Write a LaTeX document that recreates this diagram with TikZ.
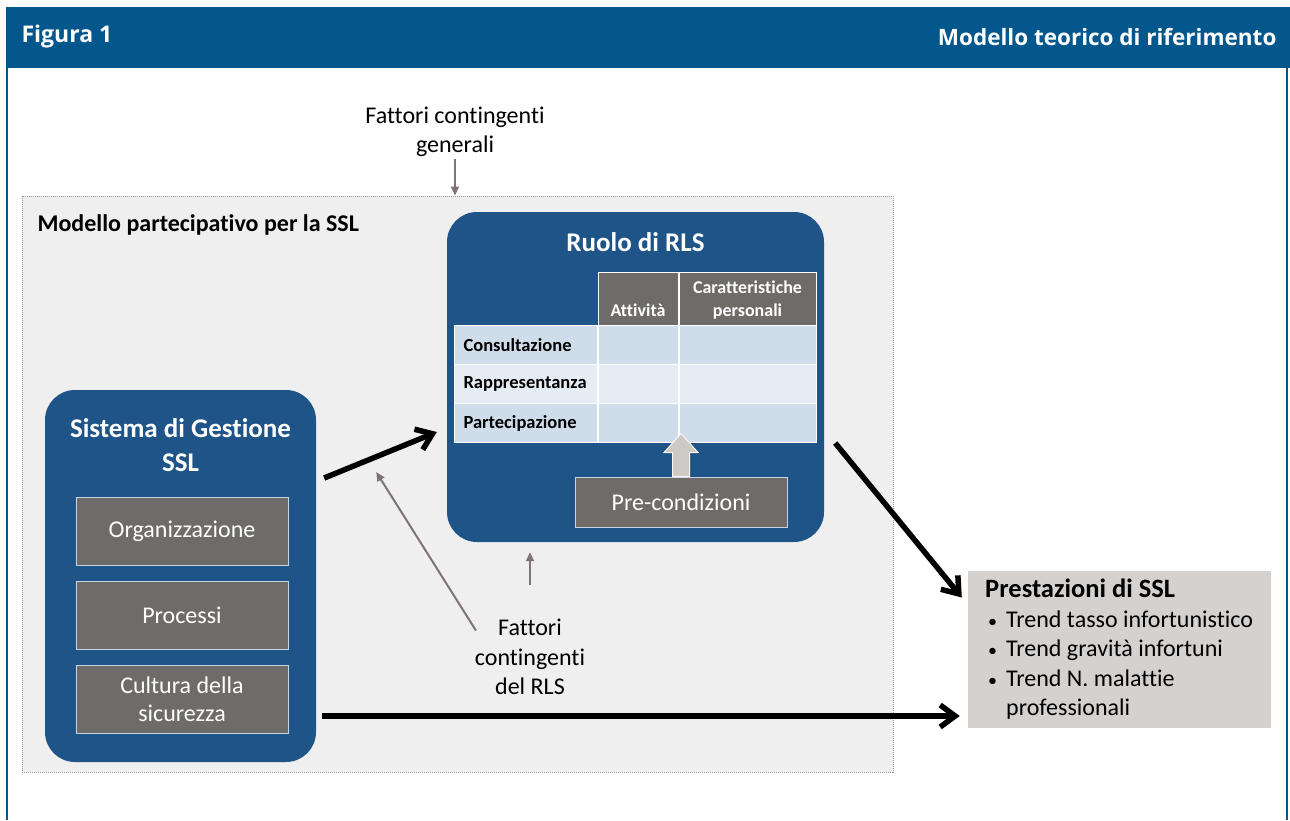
\documentclass[tikz,border=0pt]{standalone}
\usepackage{fontspec}
\setmainfont{Carlito}[Ligatures=NoCommon]
\newfontfamily\headfont{Open Sans}
\usepackage{tikz}
\usetikzlibrary{positioning,calc,arrows.meta}

\definecolor{headblue}{HTML}{03578C}
\definecolor{boxblue}{HTML}{1F5489}
\definecolor{panelgray}{HTML}{EFEFEF}
\definecolor{cellgray}{HTML}{6F6B69}
\definecolor{rowblue}{HTML}{CFDDEB}
\definecolor{rowlight}{HTML}{E6ECF3}
\definecolor{resultgray}{HTML}{D5D1CF}
\definecolor{arrowgray}{HTML}{7F7473}
\definecolor{blockgray}{HTML}{CDC9C5}

\tikzset{
  bluebox/.style={rectangle, rounded corners=30, fill=boxblue, inner sep=0},
  graybox/.style={rectangle, fill=cellgray, draw=white!75!boxblue, line width=1,
    text=white, align=center, inner sep=0, font=\fontsize{24}{28}\selectfont},
  headcell/.style={rectangle, fill=cellgray, draw=white, line width=1,
    inner sep=0, minimum height=53},
  headtext/.style={text=white, align=center, font=\bfseries\fontsize{18}{23}\selectfont},
  rowcell/.style={rectangle, draw=white, line width=1, inner sep=0, minimum height=39},
  bigarrow/.style={line width=5.5, -{Straight Barb[length=15,width=22,line width=5.5]}},
  thinarrow/.style={arrowgray, line width=2, -{Triangle[length=9,width=8]}},
  note/.style={align=center, font=\fontsize{24}{29.5}\selectfont}
}

\begin{document}
\begin{tikzpicture}[x=1pt,y=-1pt]
\useasboundingbox (0,0) rectangle (1290,820);

% header band and frame
\fill[headblue] (6,7) rectangle (1290,68);
\draw[headblue, line width=2] (7,68) -- (7,820);
\draw[headblue, line width=2] (1287,68) -- (1287,820);
\node[anchor=west, text=white, font=\headfont\bfseries\fontsize{23}{26}\selectfont] (fig) at (18,37) {Figura 1};
\node[anchor=east, text=white, font=\headfont\bfseries\fontsize{22.5}{26}\selectfont] (titolo) at (1280,37) {Modello teorico di riferimento};

% panel
\node[rectangle, fill=panelgray, draw=gray!80, densely dotted, line width=1,
  minimum width=871, minimum height=576] (panel) at (457.5,484) {};
\node[anchor=west, font=\bfseries\fontsize{24}{28}\selectfont] (modello) at (34,225) {Modello partecipativo per la SSL};
\node[note] (gen) at (455,132) {Fattori contingenti\\generali};

% sistema di gestione
\node[bluebox, minimum width=271, minimum height=372] (sis) at (180.5,576) {};
\node[text=white, align=center, font=\bfseries\fontsize{27}{34}\selectfont] (sistitle) at (180.5,445) {Sistema di Gestione\\SSL};
\node[graybox, minimum width=212, minimum height=68] (org) at (182,531) {Organizzazione};
\node[graybox, minimum width=212, minimum height=68, below=15pt of org] (proc) {Processi};
\node[graybox, minimum width=212, minimum height=68, below=15pt of proc] (cult) {Cultura della\\sicurezza};

% ruolo di RLS
\node[bluebox, minimum width=377, minimum height=330] (rls) at (635.5,377) {};
\node[text=white, font=\bfseries\fontsize{27}{30}\selectfont] (rlstitle) at (635.5,242) {Ruolo di RLS};
\node[headcell, minimum width=80] (att) at (638,298.5) {};
\node[headcell, minimum width=137, right=0pt of att] (car) {};
\node[headtext, anchor=base] (atttxt) at ([shift={(0,-9)}]att.south) {Attività};
\node[headtext, anchor=base] (cartxt) at ([shift={(0,-9)}]car.south) {Caratteristiche\\personali};
\foreach \r/\lab/\col [count=\i] in {cons/Consultazione/rowblue, rapp/Rappresentanza/rowlight, part/Partecipazione/rowblue}{
  \node[rowcell, fill=\col, minimum width=143, anchor=north east] (\r a) at (598,286+39*\i) {};
  \node[anchor=west, font=\bfseries\fontsize{18.5}{22}\selectfont] (\r) at ([shift={(6,0)}]\r a.west) {\lab};
  \node[rowcell, fill=\col, minimum width=80, right=0pt of \r a] (\r b) {};
  \node[rowcell, fill=\col, minimum width=137, right=0pt of \r b] (\r c) {};
}
\node[graybox, minimum width=212, minimum height=50] (pre) at (681,502) {Pre-condizioni};
\fill[blockgray, draw=white!85!blockgray, line width=1]
  ([shift={(-8.5,0)}]pre.north) -- ++(0,-24) -- ++(-8.5,0) -- ++(17,-19)
  -- ++(17,19) -- ++(-8.5,0) -- ++(0,24) -- cycle;

% prestazioni
\node[rectangle, fill=resultgray, minimum width=303, minimum height=157, inner sep=0] (prest) at (1119.5,649.5) {};
\node[anchor=north west, align=left, inner sep=0, font=\fontsize{24}{29.5}\selectfont] (presttxt) at (985,579)
  {{\bfseries\fontsize{26.5}{29.5}\selectfont Prestazioni di SSL}\\
   \hspace*{3pt}{\fontsize{18}{20}\selectfont\textbullet}\hspace{9pt}Trend tasso infortunistico\\
   \hspace*{3pt}{\fontsize{18}{20}\selectfont\textbullet}\hspace{9pt}Trend gravità infortuni\\
   \hspace*{3pt}{\fontsize{18}{20}\selectfont\textbullet}\hspace{9pt}Trend N. malattie\\
   \hspace*{21pt}professionali};

% fattori contingenti del RLS
\node[note] (drls) at (530,657) {Fattori\\contingenti\\del RLS};
\coordinate (hit) at ([shift={(60,-104)}]sis.east);

% arrows
\draw[bigarrow] ([shift={(8,-98)}]sis.east) -- ([shift={(-10,55)}]rls.west);
\draw[bigarrow] ([shift={(11,66)}]rls.east) -- ([shift={(-6,-52)}]prest.west);
\draw[bigarrow] ([shift={(6,140)}]sis.east) -- ([shift={(-8,66.5)}]prest.west);
\draw[thinarrow] ([shift={(0,-2)}]gen.south) -- (gen.south |- panel.north);
\draw[thinarrow] ([shift={(-54,15)}]drls.north) -- (hit);
\draw[thinarrow] ([shift={(0,-31)}]drls.north) -- ([shift={(0,10)}]drls.north |- rls.south);

\end{tikzpicture}
\end{document}
